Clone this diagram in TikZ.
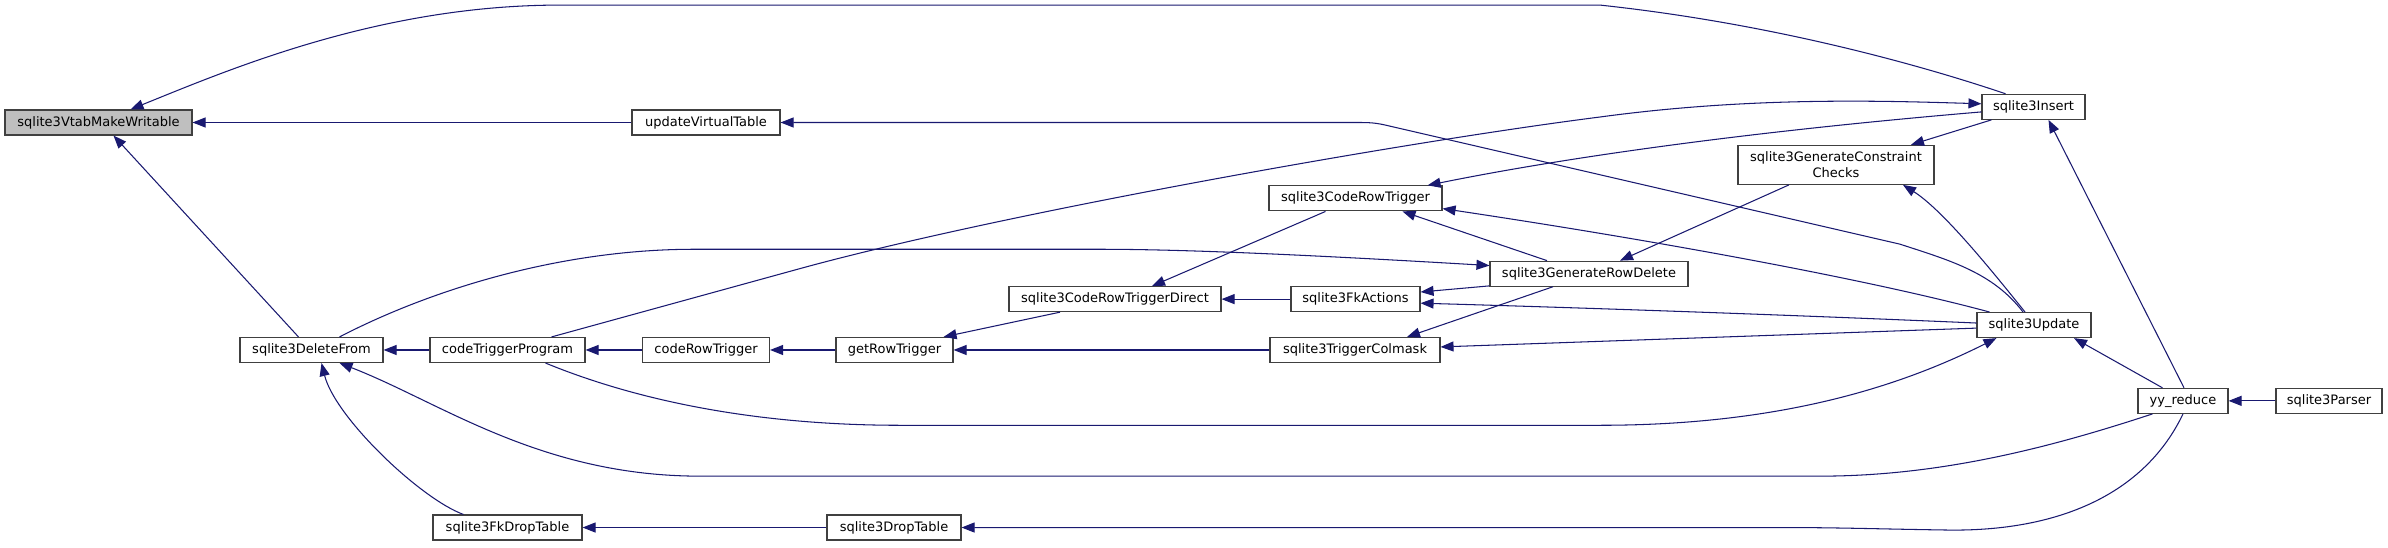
\documentclass[tikz,border=0pt]{standalone}
\usepackage{fontspec}
\newfontfamily\dejavu{DejaVu Sans}
\usetikzlibrary{arrows.meta,calc}
\definecolor{edgeblue}{HTML}{191970}
\definecolor{rootgray}{HTML}{BFBFBF}
\definecolor{boxline}{HTML}{404040}
\tikzset{
  fn/.style={draw=boxline, line width=1.1pt, fill=white, rectangle, inner sep=0pt,
    minimum height=25pt, align=center, font=\dejavu\fontsize{13}{15.5}\selectfont, text=black},
  rootfn/.style={fn, fill=rootgray},
  edge/.style={draw=edgeblue, line width=1.05pt, -{Triangle[length=13pt,width=10pt]}}
}
\begin{document}
\begin{tikzpicture}[x=1pt,y=-1.0174pt]
\useasboundingbox[fill=white] (0,0) rectangle (2388,537.65);
% nodes
\node[rootfn, minimum width=187pt] (vmw)  at (98.5,120.4) {sqlite3VtabMakeWritable};
\node[fn, minimum width=148pt]     (uvt)  at (706,120.4)  {updateVirtualTable};
\node[fn, minimum width=103pt]     (ins)  at (2033.5,105) {sqlite3Insert};
\node[fn, minimum width=196pt, minimum height=39pt] (gcc) at (1836,162) {sqlite3GenerateConstraint\\Checks};
\node[fn, minimum width=173pt]     (crt)  at (1355.5,195) {sqlite3CodeRowTrigger};
\node[fn, minimum width=198pt]     (grd)  at (1589,269)  {sqlite3GenerateRowDelete};
\node[fn, minimum width=212pt]     (crtd) at (1115,294)  {sqlite3CodeRowTriggerDirect};
\node[fn, minimum width=129pt]     (fka)  at (1355.5,294) {sqlite3FkActions};
\node[fn, minimum width=114pt]     (upd)  at (2034,319.5) {sqlite3Update};
\node[fn, minimum width=143pt]     (del)  at (311.5,344) {sqlite3DeleteFrom};
\node[fn, minimum width=155pt]     (ctp)  at (507.5,344) {codeTriggerProgram};
\node[fn, minimum width=127pt]     (cort) at (706,344)   {codeRowTrigger};
\node[fn, minimum width=117pt]     (grt)  at (894.5,344) {getRowTrigger};
\node[fn, minimum width=170pt]     (tcm)  at (1355,344)  {sqlite3TriggerColmask};
\node[fn, minimum width=90pt]      (yyr)  at (2183,394)  {yy\_reduce};
\node[fn, minimum width=106pt]     (par)  at (2329,394)  {sqlite3Parser};
\node[fn, minimum width=149pt]     (fkd)  at (507.5,518.5) {sqlite3FkDropTable};
\node[fn, minimum width=134pt]     (drp)  at (894,518.5) {sqlite3DropTable};
% edges (arrow tip at the callee)
\draw[edge] ($(ins.north)+(-28,0)$) .. controls (1945,72) and (1790,25) .. (1600,5)
  -- (560,5) .. controls (380,5) and (230,68) .. ($(vmw.north)+(32,0)$);
\draw[edge] (uvt.west) -- (vmw.east);
\draw[edge] ($(del.north)+(-13,0)$) -- ($(vmw.south)+(15,0)$);
\draw[edge] ($(upd.north)+(-11,0)$) .. controls (1993,268) and (1950,256) .. (1900,240)
  -- (1390,124) .. controls (1375,120.4) and (1370,120.4) .. (1355,120.4) -- (uvt.east);
\draw[edge] (ctp.west) -- (del.east);
\draw[edge] ($(del.north)+(28,0)$) .. controls (430,285) and (560,245) .. (694,245)
  -- (1100,245) .. controls (1180,245) and (1300,250) .. ($(grd.west)+(0,-8)$);
\draw[edge] ($(ctp.north)+(44,0)$) -- (800,264) .. controls (1000,210) and (1400,140) .. (1600,115)
  .. controls (1750,95) and (1880,99) .. ($(ins.west)+(0,-3)$);
\draw[edge] ($(ins.west)+(0,5)$) .. controls (1800,125) and (1600,148) .. ($(crt.north east)+(-15,0)$);
\draw[edge] ($(ins.south west)+(10,0)$) -- ($(gcc.north)+(75,0)$);
\draw[edge] ($(yyr.north)+(1,0)$) -- ($(ins.south)+(15,0)$);
\draw[edge] ($(upd.north)+(-9,0)$) .. controls (1993,267.5) and (1943,206.5) .. ($(gcc.south)+(67,0)$);
\draw[edge] ($(gcc.south)+(-47,0)$) -- ($(grd.north)+(31,0)$);
\draw[edge] ($(upd.north west)+(13,0)$) .. controls (1870,275) and (1660,237) .. ($(crt.east)+(0,10)$);
\draw[edge] ($(grd.north)+(-42,0)$) -- ($(crt.south)+(47,0)$);
\draw[edge] ($(crt.south)+(-30,0)$) -- ($(crtd.north)+(37,0)$);
\draw[edge] (fka.west) -- (crtd.east);
\draw[edge] ($(grd.west)+(0,12)$) -- ($(fka.east)+(0,-7)$);
\draw[edge] ($(upd.west)+(0,-2)$) .. controls (1800,310) and (1600,303) .. ($(fka.east)+(0,4)$);
\draw[edge] ($(crtd.south)+(-55,0)$) -- ($(grt.north east)+(-10,0)$);
\draw[edge] (tcm.west) -- (grt.east);
\draw[edge] ($(grd.south)+(-36,0)$) -- ($(tcm.north)+(52,0)$);
\draw[edge] ($(upd.west)+(0,3)$) -- ($(tcm.east)+(0,-3)$);
\draw[edge] (grt.west) -- (cort.east);
\draw[edge] (cort.west) -- (ctp.east);
\draw[edge] ($(ctp.south)+(38,0)$) .. controls (640,395) and (760,418) .. (900,418)
  -- (1600,418) .. controls (1780,418) and (1900,380) .. ($(upd.south west)+(20,0)$);
\draw[edge] ($(yyr.north west)+(25,0)$) -- ($(upd.south)+(40,0)$);
\draw[edge] ($(yyr.south west)+(15,0)$) .. controls (2050,440) and (1940,468) .. (1820,468)
  -- (700,468) .. controls (540,468) and (440,395) .. ($(del.south)+(28,0)$);
\draw[edge] ($(fkd.north)+(-44,0)$) .. controls (420,490) and (335,410) .. ($(del.south)+(10,0)$);
\draw[edge] (drp.west) -- (fkd.east);
\draw[edge] (yyr.south) .. controls (2145,485) and (2060,522) .. (1950,521)
  .. controls (1880,520) and (1840,518.5) .. (1780,518.5) -- (drp.east);
\draw[edge] (par.west) -- (yyr.east);
\end{tikzpicture}
\end{document}
